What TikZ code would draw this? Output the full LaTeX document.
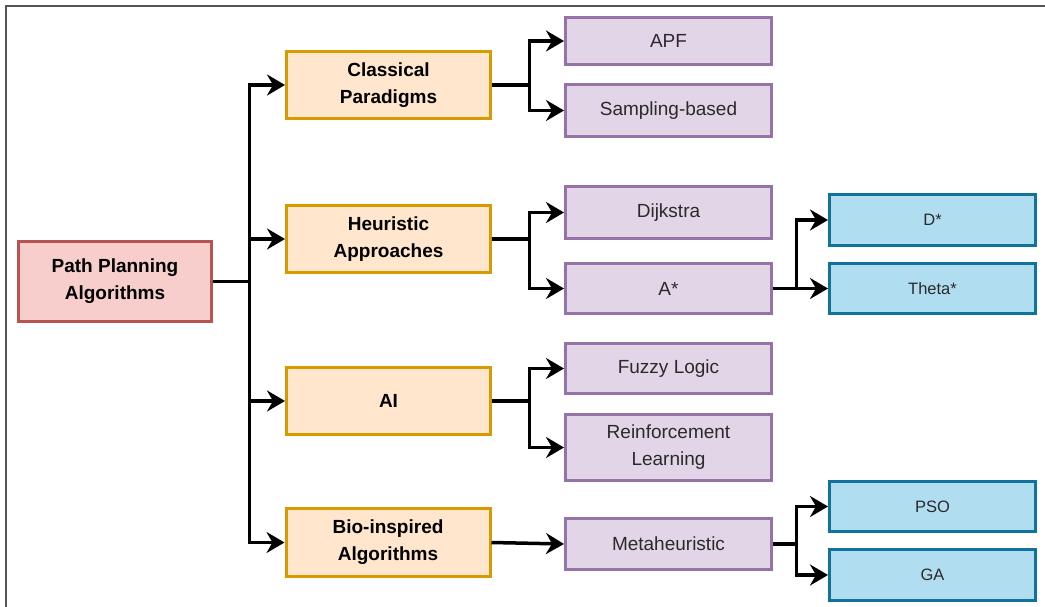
\documentclass[tikz,border=0pt]{standalone}
\usepackage{fontspec}
\setmainfont{Liberation Sans}
\usetikzlibrary{arrows.meta}
\definecolor{rootfill}{HTML}{F8CECC}
\definecolor{rootdraw}{HTML}{B85450}
\definecolor{orgfill}{HTML}{FFE6CC}
\definecolor{orgdraw}{HTML}{D79B00}
\definecolor{purfill}{HTML}{E1D5E7}
\definecolor{purdraw}{HTML}{9673A6}
\definecolor{blufill}{HTML}{B1DDF0}
\definecolor{bludraw}{HTML}{10739E}
\definecolor{framegray}{HTML}{555555}
\definecolor{txtgray}{HTML}{2A2A2A}
\tikzset{
  boxbase/.style={draw, line width=3pt, align=center, inner sep=0pt, text=black},
  rootbox/.style={boxbase, fill=rootfill, draw=rootdraw, minimum width=193pt, minimum height=80pt, font=\fontsize{19}{27}\selectfont\bfseries},
  catbox/.style={boxbase, fill=orgfill, draw=orgdraw, minimum width=204pt, minimum height=67pt, font=\fontsize{19}{27}\selectfont\bfseries},
  subbox/.style={boxbase, fill=purfill, draw=purdraw, minimum width=206pt, text=txtgray, font=\fontsize{19}{27}\selectfont},
  leafbox/.style={boxbase, fill=blufill, draw=bludraw, minimum width=206pt, text=txtgray, font=\fontsize{16.5}{20}\selectfont},
  conn/.style={line width=3.5pt, black, -{Stealth[length=18pt,width=21pt,inset=6pt]}}
}
\begin{document}
\begin{tikzpicture}[x=1pt,y=-1pt]
\useasboundingbox (0,0) rectangle (1045,607);
\fill[white] (0,0) rectangle (1045,607);
\draw[framegray, line width=2pt] (6,608) -- (6,6) -- (1046,6);

\node[rootbox] (root) at (115,281.5) {Path Planning\\Algorithms};

\node[catbox] (cls) at (388.5,85) {Classical\\Paradigms};
\node[catbox] (heu) at (388.5,239) {Heuristic\\Approaches};
\node[catbox] (ai) at (388.5,401) {AI};
\node[catbox, minimum height=68pt] (bio) at (388,542.5) {Bio-inspired\\Algorithms};

\node[subbox, minimum height=47pt] (apf) at (668.5,41) {APF};
\node[subbox, minimum height=52pt] (samp) at (668.5,110.5) {Sampling-based};
\node[subbox, minimum height=52pt] (dij) at (668.5,212.5) {Dijkstra};
\node[subbox, minimum height=50pt] (astar) at (668.5,288.5) {A*};
\node[subbox, minimum height=50pt] (fuzzy) at (668.5,368.5) {Fuzzy Logic};
\node[subbox, minimum height=66pt] (rl) at (668.5,447.5) {Reinforcement\\Learning};
\node[subbox, minimum height=51pt] (meta) at (668.5,544) {Metaheuristic};

\node[leafbox, minimum height=51pt] (dstar) at (932.5,220) {D*};
\node[leafbox, minimum height=50pt] (theta) at (932.5,288.5) {Theta*};
\node[leafbox, minimum height=50pt] (pso) at (932.5,506.5) {PSO};
\node[leafbox, minimum height=51pt] (ga) at (932.5,575) {GA};

% root to categories
\draw[conn] (root.east) -- ++(36.5,0) |- (cls.west);
\draw[conn] (root.east) -- ++(36.5,0) |- (heu.west);
\draw[conn] (root.east) -- ++(36.5,0) |- (ai.west);
\draw[conn] (root.east) -- ++(36.5,0) |- (bio.west);

% categories to subcategories
\draw[conn] (cls.east) -- ++(37.5,0) |- (apf.west);
\draw[conn] (cls.east) -- ++(37.5,0) |- (samp.west);
\draw[conn] (heu.east) -- ++(37.5,0) |- (dij.west);
\draw[conn] (heu.east) -- ++(37.5,0) |- (astar.west);
\draw[conn] (ai.east) -- ++(37.5,0) |- (fuzzy.west);
\draw[conn] (ai.east) -- ++(37.5,0) |- (rl.west);
\draw[conn] (bio.east) -- (meta.west);

% subcategories to leaves
\draw[conn] (astar.east) -- ++(23.5,0) |- (dstar.west);
\draw[conn] (astar.east) -- ++(23.5,0) |- (theta.west);
\draw[conn] (meta.east) -- ++(23.5,0) |- (pso.west);
\draw[conn] (meta.east) -- ++(23.5,0) |- (ga.west);
\end{tikzpicture}
\end{document}
